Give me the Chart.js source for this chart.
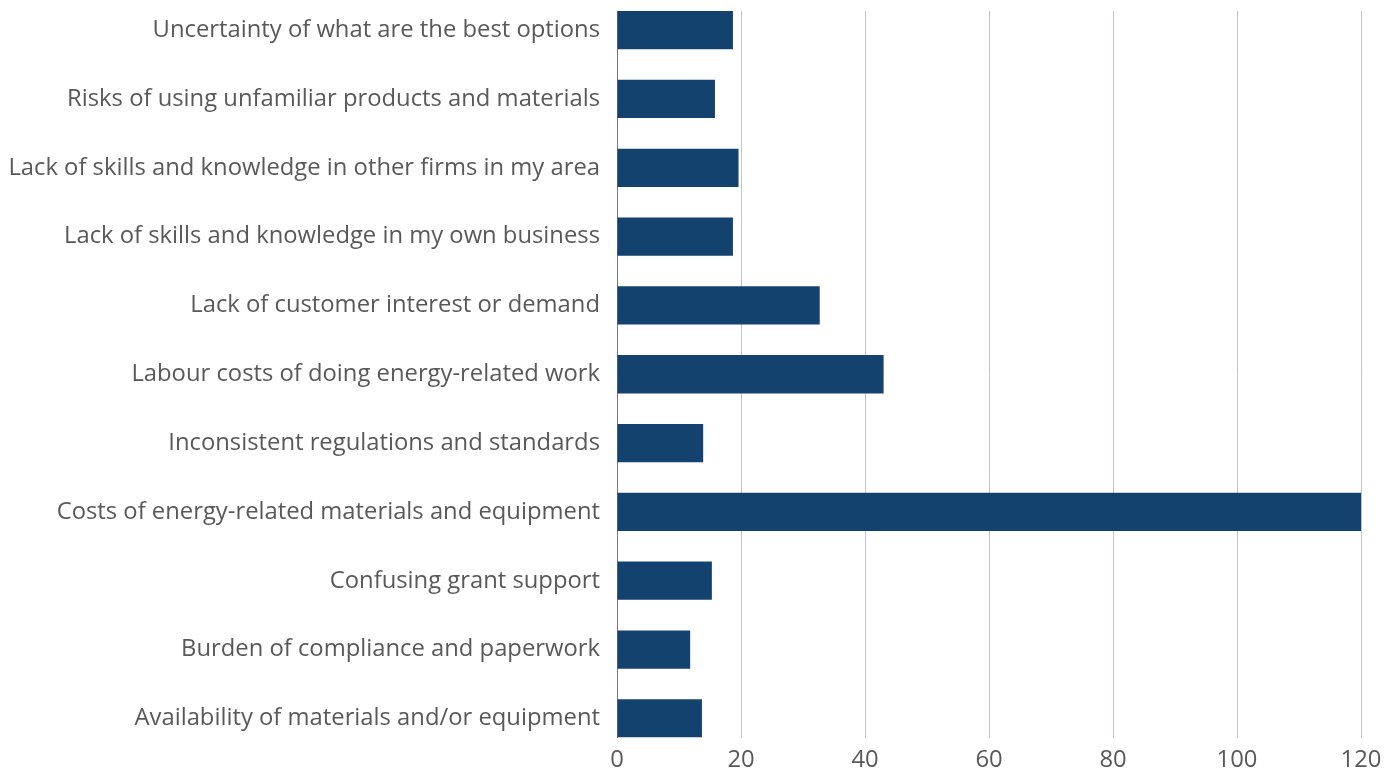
<!DOCTYPE html>
<html>
<head>
<meta charset="utf-8">
<script src="https://cdn.jsdelivr.net/npm/chart.js@4"></script>
<style>
  html, body { margin: 0; padding: 0; background: #ffffff; }
  #wrap { width: 1397px; height: 769px; position: relative; }
</style>
</head>
<body>
<div id="wrap"><canvas id="c"></canvas></div>
<script>
// Barriers to energy-related work (top to bottom)
const categories = [
  'Uncertainty of what are the best options',
  'Risks of using unfamiliar products and materials',
  'Lack of skills and knowledge in other firms in my area',
  'Lack of skills and knowledge in my own business',
  'Lack of customer interest or demand',
  'Labour costs of doing energy-related work',
  'Inconsistent regulations and standards',
  'Costs of energy-related materials and equipment',
  'Confusing grant support',
  'Burden of compliance and paperwork',
  'Availability of materials and/or equipment'
];
const responses = [18.7, 15.8, 19.6, 18.7, 32.7, 43.0, 13.9, 120, 15.3, 11.8, 13.7];
const xTicks = [0, 20, 40, 60, 80, 100, 120];

const points = responses.map((v, i) => ({ x: v, y: i }));
const textColor = '#595959';
const fontFamily = "'Open Sans', 'Noto Sans', sans-serif";

new Chart(document.getElementById('c'), {
  type: 'bar',
  data: {
    datasets: [{
      data: points,
      backgroundColor: '#14426f',
      borderWidth: 0,
      categoryPercentage: 1,
      barPercentage: 0.5565
    }]
  },
  options: {
    indexAxis: 'y',
    responsive: true,
    maintainAspectRatio: false,
    animation: false,
    layout: { padding: { top: 11, right: 36, bottom: 0, left: 0 } },
    plugins: { legend: { display: false }, tooltip: { enabled: false } },
    scales: {
      x: {
        type: 'linear',
        min: 0,
        max: 120,
        afterBuildTicks: (scale) => { scale.ticks = xTicks.map(v => ({ value: v })); },
        afterFit: (scale) => { scale.height = 31.5; },
        grid: { color: '#c4c1d1', lineWidth: 1, drawTicks: false },
        border: { display: false },
        ticks: { color: textColor, padding: 8, font: { family: fontFamily, size: 23.8 } }
      },
      y: {
        type: 'linear',
        reverse: true,
        offset: false,
        min: -0.278,
        max: categories.length - 1 + 0.278,
        afterBuildTicks: (scale) => { scale.ticks = categories.map((_, i) => ({ value: i })); },
        afterFit: (scale) => {
          scale.width = 617;
          scale.paddingTop = 0;
          scale.paddingBottom = 0;
        },
        grid: { display: false, drawTicks: false, offset: false },
        border: { display: true, color: '#7d72a0', width: 1 },
        ticks: {
          color: textColor,
          padding: 17,
          autoSkip: false,
          font: { family: fontFamily, size: 23.8 },
          callback: (value) => categories[value]
        }
      }
    }
  }
});
</script>
</body>
</html>
